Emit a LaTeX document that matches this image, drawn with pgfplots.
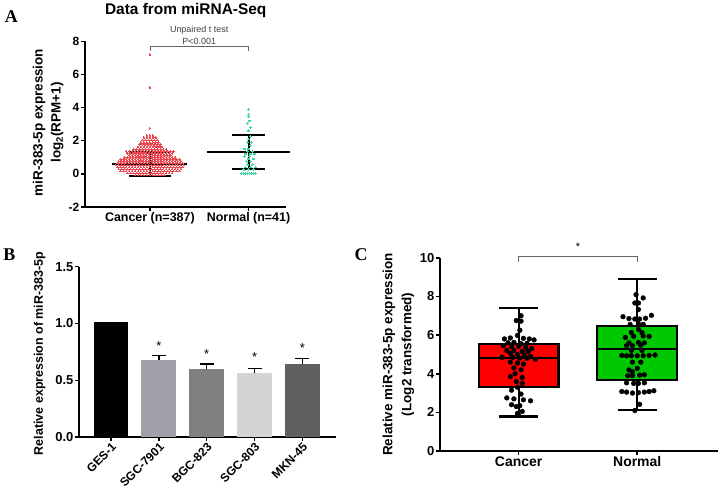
\documentclass[border=0pt]{standalone}
\usepackage{pgfplots}
\pgfplotsset{compat=1.18}
\usepgfplotslibrary{statistics}
\usepackage{fontspec}
\setmainfont{Liberation Sans}
\newfontfamily\seriffont{Liberation Serif}
\definecolor{cancerred}{RGB}{236,70,80}
\definecolor{normalgreen}{RGB}{64,214,166}
\definecolor{boxred}{RGB}{255,0,0}
\definecolor{boxgreen}{RGB}{0,200,0}
\definecolor{barB}{RGB}{160,160,168}
\definecolor{barC}{RGB}{128,128,128}
\definecolor{barD}{RGB}{212,212,212}
\definecolor{barE}{RGB}{96,96,96}
\pgfplotsset{
  gp/.style={
    scale only axis, anchor=south west,
    axis x line*=bottom, axis y line*=left,
    axis line style={line width=1.6pt, -},
    tick align=outside, major tick length=4pt,
    every tick/.style={line width=1.6pt, black},
    ticklabel style={inner sep=1.5pt},
    clip=false,
  }
}
\begin{document}
\begin{tikzpicture}[x=1pt,y=1pt]
% ---------------- Panel A ----------------
\begin{axis}[gp, at={(83pt,291pt)}, width=202pt, height=166pt,
  xmin=0.343, xmax=2.384, ymin=-2, ymax=8,
  xtick={1,2}, xticklabels={Cancer (n=387),Normal (n=41)},
  ytick={-2,0,2,4,6,8}, yticklabels={-2,0,2,4,6,8},
  xticklabel style={font=\bfseries\fontsize{12.5}{14}\selectfont},
  yticklabel style={font=\bfseries\fontsize{12}{14}\selectfont},
  ylabel={miR-383-5p expression\\log\textsubscript{2}(RPM+1)},
  ylabel style={at={(axis description cs:-0.183,0.51)}, anchor=center, rotate=0, align=center,
    font=\bfseries\fontsize{13.5}{18}\selectfont},
  title={Data from miRNA-Seq},
  title style={at={(axis description cs:0.5,1)}, anchor=center, yshift=25pt,
    font=\bfseries\fontsize{15.5}{18}\selectfont},
]
\addplot[only marks, mark=*, mark size=0.8pt, color=cancerred, mark options={line width=0pt, draw=cancerred, fill=cancerred}] coordinates {
(0.85,-0.08)(0.88,-0.08)(0.91,-0.08)(0.94,-0.08)(0.97,-0.08)(1.00,-0.08)(1.03,-0.08)(1.06,-0.08)(1.09,-0.08)(1.12,-0.08)(1.15,-0.08)
(0.775,0.04)(0.805,0.04)(0.835,0.04)(0.865,0.04)(0.895,0.04)(0.925,0.04)(0.955,0.04)(0.985,0.04)(1.015,0.04)(1.045,0.04)(1.075,0.04)(1.105,0.04)(1.135,0.04)(1.165,0.04)(1.195,0.04)(1.225,0.04)
(0.70,0.16)(0.73,0.16)(0.76,0.16)(0.79,0.16)(0.82,0.16)(0.85,0.16)(0.88,0.16)(0.91,0.16)(0.94,0.16)(0.97,0.16)(1.00,0.16)(1.03,0.16)(1.06,0.16)(1.09,0.16)(1.12,0.16)(1.15,0.16)(1.18,0.16)(1.21,0.16)(1.24,0.16)(1.27,0.16)(1.30,0.16)
(0.685,0.28)(0.715,0.28)(0.745,0.28)(0.775,0.28)(0.805,0.28)(0.835,0.28)(0.865,0.28)(0.895,0.28)(0.925,0.28)(0.955,0.28)(0.985,0.28)(1.015,0.28)(1.045,0.28)(1.075,0.28)(1.105,0.28)(1.135,0.28)(1.165,0.28)(1.195,0.28)(1.225,0.28)(1.255,0.28)(1.285,0.28)(1.315,0.28)
(0.67,0.40)(0.70,0.40)(0.73,0.40)(0.76,0.40)(0.79,0.40)(0.82,0.40)(0.85,0.40)(0.88,0.40)(0.91,0.40)(0.94,0.40)(0.97,0.40)(1.00,0.40)(1.03,0.40)(1.06,0.40)(1.09,0.40)(1.12,0.40)(1.15,0.40)(1.18,0.40)(1.21,0.40)(1.24,0.40)(1.27,0.40)(1.30,0.40)(1.33,0.40)
(0.655,0.52)(0.685,0.52)(0.715,0.52)(0.745,0.52)(0.775,0.52)(0.805,0.52)(0.835,0.52)(0.865,0.52)(0.895,0.52)(0.925,0.52)(0.955,0.52)(0.985,0.52)(1.015,0.52)(1.045,0.52)(1.075,0.52)(1.105,0.52)(1.135,0.52)(1.165,0.52)(1.195,0.52)(1.225,0.52)(1.255,0.52)(1.285,0.52)(1.315,0.52)(1.345,0.52)
(0.67,0.64)(0.70,0.64)(0.73,0.64)(0.76,0.64)(0.79,0.64)(0.82,0.64)(0.85,0.64)(0.88,0.64)(0.91,0.64)(0.94,0.64)(0.97,0.64)(1.00,0.64)(1.03,0.64)(1.06,0.64)(1.09,0.64)(1.12,0.64)(1.15,0.64)(1.18,0.64)(1.21,0.64)(1.24,0.64)(1.27,0.64)(1.30,0.64)(1.33,0.64)
(0.685,0.76)(0.715,0.76)(0.745,0.76)(0.775,0.76)(0.805,0.76)(0.835,0.76)(0.865,0.76)(0.895,0.76)(0.925,0.76)(0.955,0.76)(0.985,0.76)(1.015,0.76)(1.045,0.76)(1.075,0.76)(1.105,0.76)(1.135,0.76)(1.165,0.76)(1.195,0.76)(1.225,0.76)(1.255,0.76)(1.285,0.76)(1.315,0.76)
(0.70,0.88)(0.73,0.88)(0.76,0.88)(0.79,0.88)(0.82,0.88)(0.85,0.88)(0.88,0.88)(0.91,0.88)(0.94,0.88)(0.97,0.88)(1.00,0.88)(1.03,0.88)(1.06,0.88)(1.09,0.88)(1.12,0.88)(1.15,0.88)(1.18,0.88)(1.21,0.88)(1.24,0.88)(1.27,0.88)(1.30,0.88)
(0.745,1.00)(0.775,1.00)(0.805,1.00)(0.835,1.00)(0.865,1.00)(0.895,1.00)(0.925,1.00)(0.955,1.00)(0.985,1.00)(1.015,1.00)(1.045,1.00)(1.075,1.00)(1.105,1.00)(1.135,1.00)(1.165,1.00)(1.195,1.00)(1.225,1.00)(1.255,1.00)
(0.79,1.12)(0.82,1.12)(0.85,1.12)(0.88,1.12)(0.91,1.12)(0.94,1.12)(0.97,1.12)(1.00,1.12)(1.03,1.12)(1.06,1.12)(1.09,1.12)(1.12,1.12)(1.15,1.12)(1.18,1.12)(1.21,1.12)
(0.775,1.24)(0.805,1.24)(0.835,1.24)(0.865,1.24)(0.895,1.24)(0.925,1.24)(0.955,1.24)(0.985,1.24)(1.015,1.24)(1.045,1.24)(1.075,1.24)(1.105,1.24)(1.135,1.24)(1.165,1.24)(1.195,1.24)(1.225,1.24)
(0.76,1.36)(0.79,1.36)(0.82,1.36)(0.85,1.36)(0.88,1.36)(0.91,1.36)(0.94,1.36)(0.97,1.36)(1.00,1.36)(1.03,1.36)(1.06,1.36)(1.09,1.36)(1.12,1.36)(1.15,1.36)(1.18,1.36)(1.21,1.36)(1.24,1.36)
(0.835,1.48)(0.865,1.48)(0.895,1.48)(0.925,1.48)(0.955,1.48)(0.985,1.48)(1.015,1.48)(1.045,1.48)(1.075,1.48)(1.105,1.48)(1.135,1.48)(1.165,1.48)
(0.88,1.62)(0.91,1.62)(0.94,1.62)(0.97,1.62)(1.00,1.62)(1.03,1.62)(1.06,1.62)(1.09,1.62)(1.12,1.62)
(0.895,1.76)(0.925,1.76)(0.955,1.76)(0.985,1.76)(1.015,1.76)(1.045,1.76)(1.075,1.76)(1.105,1.76)
(0.91,1.90)(0.94,1.90)(0.97,1.90)(1.00,1.90)(1.03,1.90)(1.06,1.90)(1.09,1.90)
(0.925,2.04)(0.955,2.04)(0.985,2.04)(1.015,2.04)(1.045,2.04)(1.075,2.04)
(0.94,2.18)(0.97,2.18)(1.00,2.18)(1.03,2.18)(1.06,2.18)
(0.97,2.30)(1.00,2.30)(1.03,2.30)
(1.00,2.75)(1.00,5.22)(1.00,7.20)
};
\addplot[only marks, mark=*, mark size=0.8pt, color=normalgreen, mark options={line width=0pt, draw=normalgreen, fill=normalgreen}] coordinates {
(1.93,0.02)(1.95,0.02)(1.97,0.02)(1.99,0.02)(2.01,0.02)(2.03,0.02)(2.05,0.02)(2.07,0.02)
(1.95,0.25)(2.00,0.25)(2.05,0.25)
(1.97,0.40)(2.02,0.40)(2.07,0.40)
(1.99,0.55)(2.04,0.55)
(1.98,0.75)(2.02,0.75)
(2.00,0.90)(2.05,0.90)
(1.96,1.05)(2.01,1.05)
(1.97,1.20)(2.02,1.20)(2.06,1.20)
(1.99,1.35)(2.04,1.35)
(1.96,1.50)(2.00,1.50)
(2.02,1.70)
(1.99,1.90)(2.03,1.90)
(2.00,2.10)
(2.02,2.25)
(2.00,2.60)(2.02,2.80)(1.99,3.05)(2.01,3.20)(2.00,3.45)(2.00,3.60)(2.00,3.88)
};
% mean and SD
\addplot[black, line width=2pt] coordinates {(0.62,0.57)(1.38,0.57)};
\addplot[black, line width=2pt] coordinates {(0.79,1.29)(1.21,1.29)};
\addplot[black, line width=2pt] coordinates {(0.79,-0.16)(1.21,-0.16)};
\addplot[black, line width=2pt] coordinates {(1,-0.16)(1,1.29)};
\addplot[black, line width=2pt] coordinates {(1.58,1.32)(2.42,1.32)};
\addplot[black, line width=2pt] coordinates {(1.83,2.35)(2.17,2.35)};
\addplot[black, line width=2pt] coordinates {(1.83,0.29)(2.17,0.29)};
\addplot[black, line width=2pt] coordinates {(2,0.29)(2,2.35)};
% significance
\addplot[black!60, line width=0.7pt] coordinates {(1,7.45)(1,7.72)(2,7.72)(2,7.45)};
\node[font=\fontsize{9}{10}\selectfont, text=black!75] at (axis cs:1.5,8.0) {P<0.001};
\node[font=\fontsize{9}{10}\selectfont, text=black!75] at (axis cs:1.5,8.68) {Unpaired t test};
\end{axis}
% ---------------- Panel B ----------------
\begin{axis}[gp, at={(77pt,60pt)}, width=258pt, height=171pt,
  xmin=-0.667, xmax=4.708, ymin=0, ymax=1.5,
  xtick={0,1,2,3,4}, xticklabels={GES-1,SGC-7901,BGC-823,SGC-803,MKN-45},
  xticklabel style={rotate=45, anchor=north east, inner sep=0.5pt, font=\bfseries\fontsize{12}{14}\selectfont},
  ytick={0,0.5,1,1.5}, yticklabels={0.0,0.5,1.0,1.5},
  yticklabel style={font=\bfseries\fontsize{13}{15}\selectfont},
  ylabel={Relative expression of miR-383-5p},
  ylabel style={at={(axis description cs:-0.153,0.49)}, anchor=center,
    font=\bfseries\fontsize{12.5}{15}\selectfont},
  every axis plot/.append style={ybar, bar width=0.73, bar shift=0pt, draw=none},
  error bars/error bar style={line width=1.6pt, black},
  error bars/error mark options={rotate=90, mark size=7pt, line width=1.6pt, black},
]
\addplot[fill=black] coordinates {(0,1.01)};
\addplot[fill=barB, error bars/.cd, y dir=plus, y explicit] coordinates {(1,0.68) +- (0,0.04)};
\addplot[fill=barC, error bars/.cd, y dir=plus, y explicit] coordinates {(2,0.60) +- (0,0.046)};
\addplot[fill=barD, error bars/.cd, y dir=plus, y explicit] coordinates {(3,0.56) +- (0,0.045)};
\addplot[fill=barE, error bars/.cd, y dir=plus, y explicit] coordinates {(4,0.643) +- (0,0.05)};
\node[font=\fontsize{13}{13}\selectfont] at (axis cs:1,0.80) {*};
\node[font=\fontsize{13}{13}\selectfont] at (axis cs:2,0.735) {*};
\node[font=\fontsize{13}{13}\selectfont] at (axis cs:3,0.705) {*};
\node[font=\fontsize{13}{13}\selectfont] at (axis cs:4,0.785) {*};
\end{axis}
% ---------------- Panel C ----------------
\begin{axis}[gp, at={(439pt,46pt)}, width=279pt, height=194pt,
  xmin=0.336, xmax=2.681, ymin=0, ymax=10,
  xtick={1,2}, xticklabels={Cancer,Normal},
  xticklabel style={font=\bfseries\fontsize{14}{16}\selectfont},
  ytick={0,2,4,6,8,10}, yticklabels={0,2,4,6,8,10},
  yticklabel style={font=\bfseries\fontsize{13}{15}\selectfont},
  ylabel={Relative miR-383-5p expression\\(Log2 transformed)},
  ylabel style={at={(axis description cs:-0.149,0.5)}, anchor=center, align=center,
    font=\bfseries\fontsize{13.5}{19}\selectfont},
  boxplot/draw direction=y,
]
\addplot[boxplot prepared={draw position=1, lower whisker=1.79, lower quartile=3.30,
   median=4.83, upper quartile=5.53, upper whisker=7.39,
   box extend=0.672, whisker extend=0.33},
   fill=boxred, draw=black, line width=2.2pt] coordinates {};
\addplot[boxplot prepared={draw position=2, lower whisker=2.13, lower quartile=3.69,
   median=5.27, upper quartile=6.48, upper whisker=8.88,
   box extend=0.672, whisker extend=0.33},
   fill=boxgreen, draw=black, line width=2.2pt] coordinates {};
\addplot[only marks, mark=*, mark size=2.4pt, color=black] coordinates {
(1.02,7.0)(0.98,6.75)(1.02,6.72)(1.01,6.25)(0.99,5.98)
(0.93,5.85)(0.88,5.8)(1.04,5.83)(1.09,5.8)(1.13,5.75)
(0.91,5.6)(0.96,5.62)(1.02,5.55)(1.07,5.57)
(0.87,5.45)(0.94,5.4)(1.0,5.42)(1.06,5.35)(1.11,5.3)
(0.9,5.2)(0.96,5.2)(1.03,5.15)(1.08,5.15)
(0.93,5.05)(0.99,5.0)(1.05,4.95)(1.1,4.9)
(0.86,4.85)(0.95,4.85)(1.01,4.8)(1.07,4.8)(1.14,4.75)
(0.93,4.6)(0.99,4.55)(1.04,4.5)
(0.96,4.3)(1.02,4.2)
(0.97,4.0)(0.93,3.85)(1.03,3.8)
(0.98,3.6)(1.03,3.5)
(0.99,3.3)(0.94,3.15)
(1.02,2.95)
(0.9,2.75)(0.96,2.7)(1.04,2.65)(1.1,2.6)
(0.94,2.4)(1.01,2.35)(0.98,2.3)
(1.03,2.05)(0.99,1.95)(1.0,1.85)
};
\addplot[only marks, mark=*, mark size=2.4pt, color=black] coordinates {
(1.99,8.09)(2.05,7.92)(1.98,7.66)(2.01,7.66)(2.01,7.32)
(1.88,6.95)(1.93,6.85)(1.98,6.83)(2.02,6.83)(2.07,6.87)(2.12,7.02)
(1.94,6.55)(2.01,6.58)(2.05,6.55)(2.01,6.3)
(1.95,6.13)(2.04,6.13)
(1.9,5.88)(1.97,5.93)(2.05,5.95)(2.1,5.93)
(1.93,5.6)(2.01,5.62)(2.06,5.6)
(1.91,5.45)(1.96,5.45)(2.03,5.47)
(1.95,5.2)(2.04,5.2)
(1.87,4.95)(1.91,4.93)(1.95,4.93)(2.0,4.93)(2.05,4.93)(2.1,4.95)(2.15,4.97)
(1.96,4.6)(2.03,4.6)
(1.93,4.2)(2.0,4.28)(1.96,4.1)
(1.92,3.9)(1.96,3.9)(2.02,3.93)(2.06,3.95)
(1.91,3.53)(1.97,3.5)(2.01,3.5)(2.06,3.53)
(1.87,3.08)(1.91,3.05)(1.96,3.0)(2.01,3.02)(2.06,3.05)(2.1,3.08)(2.14,3.12)
(2.02,2.42)(1.98,2.1)
};
\addplot[black!60, line width=0.7pt] coordinates {(1,9.78)(1,10.05)(2,10.05)(2,9.78)};
\node[font=\fontsize{11}{11}\selectfont] at (axis cs:1.5,10.55) {*};
\end{axis}
% panel letters
\node[font=\seriffont\bfseries\fontsize{18}{18}\selectfont] at (9pt,482pt) {A};
\node[font=\seriffont\bfseries\fontsize{18}{18}\selectfont] at (7pt,243pt) {B};
\node[font=\seriffont\bfseries\fontsize{18}{18}\selectfont] at (360pt,243pt) {C};
\useasboundingbox (0pt,0pt) rectangle (720pt,493pt);
\end{tikzpicture}
\end{document}
